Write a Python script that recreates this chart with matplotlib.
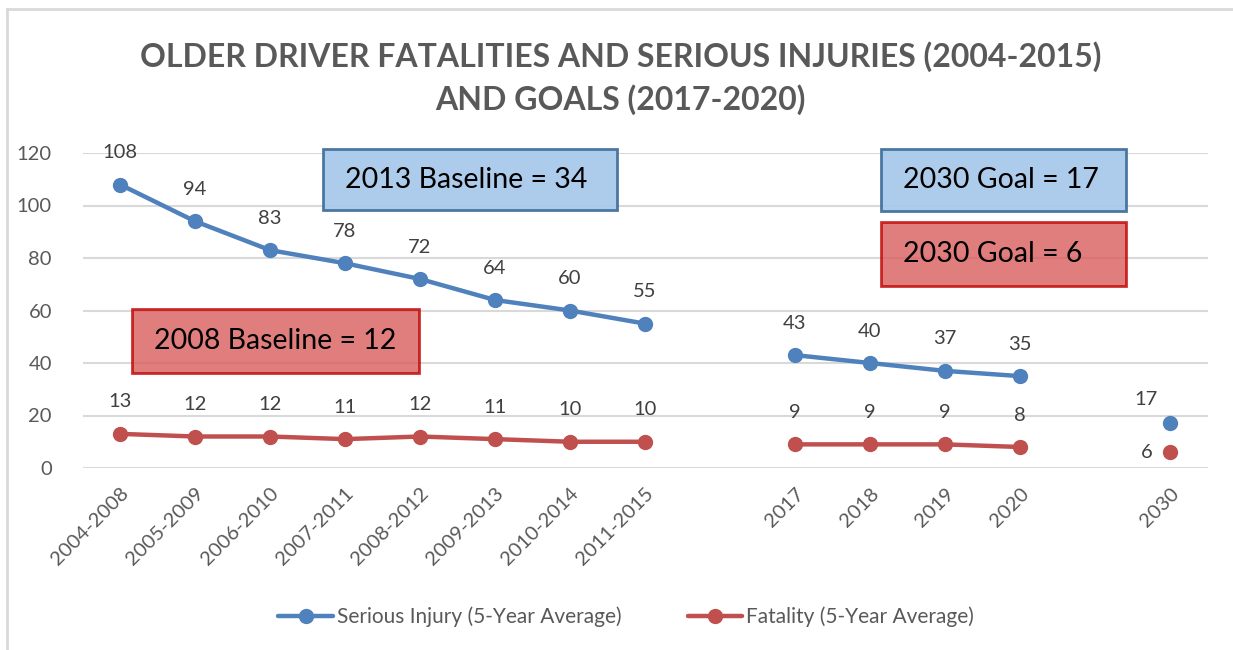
import numpy as np
import matplotlib
matplotlib.use('Agg')
import matplotlib.pyplot as plt
from matplotlib.patches import Rectangle
from matplotlib.lines import Line2D

plt.rcParams['font.family'] = ['Lato', 'DejaVu Sans']

# categories (empty strings are spacer slots between the periods)
categories = ['2004-2008', '2005-2009', '2006-2010', '2007-2011', '2008-2012',
              '2009-2013', '2010-2014', '2011-2015', '',
              '2017', '2018', '2019', '2020', '', '2030']
serious = [108, 94, 83, 78, 72, 64, 60, 55, np.nan, 43, 40, 37, 35, np.nan, 17]
fatal = [13, 12, 12, 11, 12, 11, 10, 10, np.nan, 9, 9, 9, 8, np.nan, 6]
yticks = [0, 20, 40, 60, 80, 100, 120]

blue = '#4f81bd'
red = '#c0504d'
grey = '#595959'

fig = plt.figure(figsize=(12.33, 6.5), dpi=100)
ax = fig.add_axes([82.5 / 1233, 182 / 650, 1125 / 1233, 315 / 650])

x = np.arange(len(categories))
ax.plot(x, serious, color=blue, lw=3.2, marker='o', ms=10, label='Serious Injury (5-Year Average)',
        solid_capstyle='round')
ax.plot(x, fatal, color=red, lw=3.2, marker='o', ms=10, label='Fatality (5-Year Average)',
        solid_capstyle='round')

# value labels
last = len(categories) - 1
for xi, v in zip(x, serious):
    if np.isnan(v):
        continue
    off = (-17, 17) if xi == last else (0, 23)
    ax.annotate(str(v), (xi, v), xytext=off, textcoords='offset points',
                ha='center', va='center', fontsize=14.5, color='#404040')
for xi, v in zip(x, fatal):
    if np.isnan(v):
        continue
    off = (-17, 0) if xi == last else (0, 23)
    ax.annotate(str(v), (xi, v), xytext=off, textcoords='offset points',
                ha='center', va='center', fontsize=14.5, color='#404040')

ax.set_xlim(-0.5, len(categories) - 0.5)
ax.set_ylim(0, 120)
ax.set_yticks(yticks)
ax.set_xticks(x)
ax.set_xticklabels(categories, rotation=45, ha='right', rotation_mode='anchor')
ax.tick_params(axis='both', length=0, labelsize=14.5, labelcolor=grey)
ax.tick_params(axis='x', pad=12)
ax.tick_params(axis='y', pad=22)
ax.grid(axis='y', color='#d9d9d9', lw=1.5)
ax.set_axisbelow(True)
for s in ax.spines.values():
    s.set_visible(False)

# annotation boxes (pixel coordinates of the figure)
def box(x0, y0, x1, y1, text, face, edge, alpha):
    W, H = 1233, 650
    r = Rectangle((x0 / W, 1 - y1 / H), (x1 - x0) / W, (y1 - y0) / H, transform=fig.transFigure,
                  facecolor=face, edgecolor=edge, lw=2, alpha=alpha, zorder=5)
    fig.patches.append(r)
    fig.text((x0 + 22) / W, 1 - (y0 + y1) / 2 / H, text, fontsize=20.5, color='black',
             ha='left', va='center', zorder=6)

box(323, 149, 617, 210, '2013 Baseline = 34', '#a9c9e9', '#41719c', 0.95)
box(132, 309, 419, 373, '2008 Baseline = 12', '#d95c5c', '#c00000', 0.8)
box(881, 149, 1126, 211, '2030 Goal = 17', '#a9c9e9', '#41719c', 0.95)
box(881, 222, 1126, 286, '2030 Goal = 6', '#d95c5c', '#c00000', 0.8)

fig.text(0.503, 1 - 78 / 650, 'OLDER DRIVER FATALITIES AND SERIOUS INJURIES (2004-2015)\nAND GOALS (2017-2020)',
         ha='center', va='center', fontsize=23, fontweight='bold', color=grey, linespacing=1.5)

leg = fig.legend(loc='center', bbox_to_anchor=(0.508, 1 - 617 / 650), ncol=2, frameon=False,
                 fontsize=15, handlelength=2.6, columnspacing=3.2, handletextpad=0.2)
for t in leg.get_texts():
    t.set_color(grey)

# chart border
fig.add_artist(Line2D([7 / 1233, 7 / 1233], [0, 1 - 9 / 650], transform=fig.transFigure,
                      color='#d9d9d9', lw=2))
fig.add_artist(Line2D([7 / 1233, 1], [1 - 9 / 650, 1 - 9 / 650], transform=fig.transFigure,
                      color='#d9d9d9', lw=2))

fig.savefig('out.png', dpi=100)
